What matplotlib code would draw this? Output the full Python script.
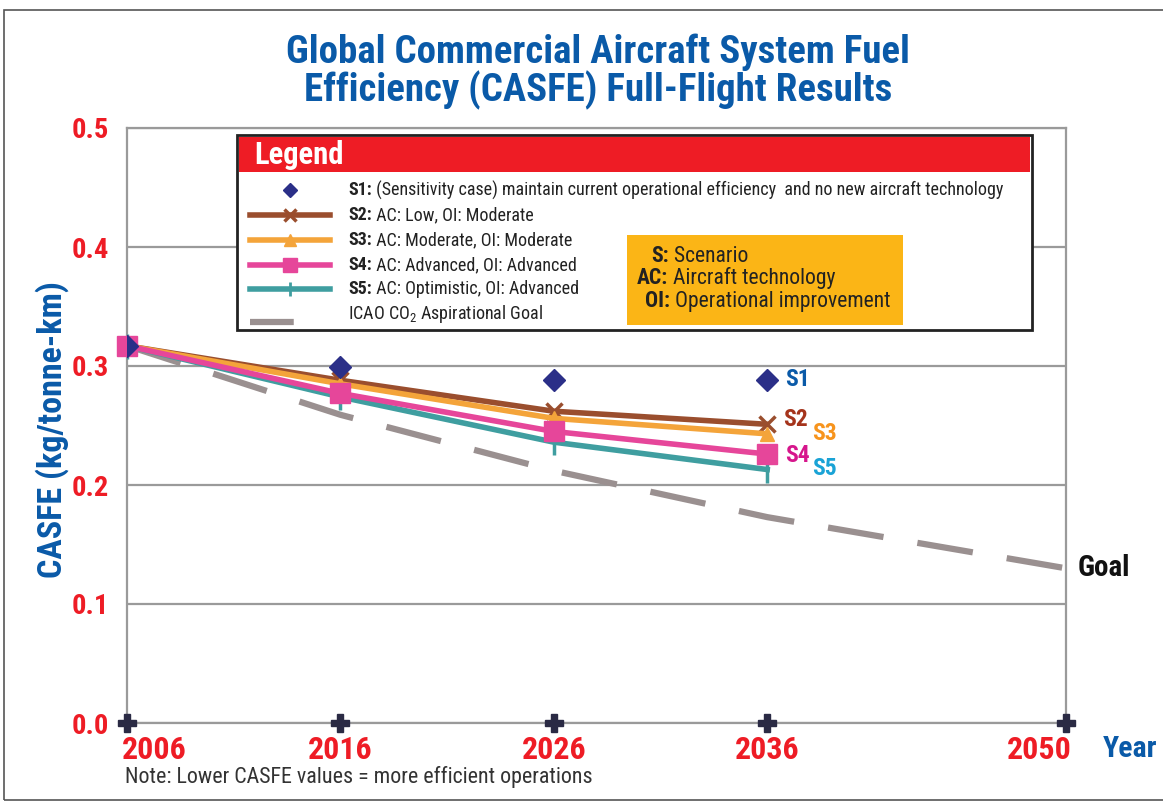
import matplotlib
matplotlib.use("Agg")
import matplotlib.pyplot as plt
from matplotlib.patches import Rectangle
from matplotlib.lines import Line2D
from matplotlib.transforms import ScaledTranslation, blended_transform_factory

# ---- data ----
years = [2006, 2016, 2026, 2036]
goal_years = [2006, 2016, 2026, 2036, 2050]
axis_years = [2006, 2016, 2026, 2036, 2050]
s1 = [0.317, 0.299, 0.288, 0.288]
s2 = [0.317, 0.288, 0.262, 0.251]
s3 = [0.317, 0.285, 0.256, 0.243]
s4 = [0.317, 0.277, 0.245, 0.226]
s5 = [0.317, 0.274, 0.236, 0.213]
goal = [0.317, 0.259, 0.212, 0.173, 0.130]
yticks = [0.0, 0.1, 0.2, 0.3, 0.4, 0.5]

RED = "#ee1c25"
BLUE = "#0a5aa8"
NARROW = ["Roboto Condensed", "DejaVu Sans"]
plt.rcParams["font.family"] = NARROW
plt.rcParams["mathtext.fontset"] = "custom"
plt.rcParams["mathtext.rm"] = "Roboto Condensed"

c_s1 = "#2b2f88"
c_s2 = "#9a4e2e"
c_s3 = "#f4a43a"
c_s4 = "#e6469a"
c_s5 = "#3f9ea0"
c_goal = "#9a9090"

fig = plt.figure(figsize=(11.63, 8.06), dpi=100)
W, H = 1163, 806


def fx(x):
    return x / W


def fy(y):
    return 1 - y / H


# outer frame
fig.add_artist(Rectangle((fx(4), fy(800)), fx(1170) - fx(4), fy(10) - fy(800),
                         transform=fig.transFigure, fill=False, ec="#555555", lw=1.2))

ax = fig.add_axes([fx(127), fy(723), fx(1066) - fx(127), fy(128) - fy(723)])
ax.set_xlim(2006, 2050)
ax.set_ylim(0, 0.5)
for y in yticks:
    ax.axhline(y, color="#9a9a9a", lw=1.6, zorder=1)
for s in ax.spines.values():
    s.set_color("#9a9a9a")
    s.set_linewidth(1.6)

ax.plot(goal_years, goal, color=c_goal, lw=4.5, dashes=(9, 5.5), zorder=2,
        solid_capstyle="butt")
ax.plot(years, s2, color=c_s2, lw=4, marker="x", ms=11, mew=2.5, zorder=4)
ax.plot(years, s3, color=c_s3, lw=4, marker="^", ms=10, zorder=4)
ax.plot(years, s4, color=c_s4, lw=4, marker="s", ms=14, zorder=5, clip_on=False)
ax.plot(years, s5, color=c_s5, lw=4, marker="|", ms=18, mew=2.5, zorder=3)
ax.plot(years, s1, ls="none", marker="D", ms=11, color=c_s1, zorder=6)
ax.plot(axis_years, [0] * len(axis_years), ls="none", marker="P", ms=13,
        color="#2a2a44", clip_on=False, zorder=6)

# x tick labels drawn at data x positions (with small alignment offsets)
ax.set_xticks(axis_years)
ax.set_xticklabels([])
ax.set_yticks(yticks)
ax.set_yticklabels([f"{y:.1f}" for y in yticks])
ax.tick_params(length=0)
for t in ax.get_yticklabels():
    t.set_color(RED)
    t.set_fontweight("bold")
    t.set_fontsize(20.5)
ax.tick_params(axis="y", pad=13)

xtrans = blended_transform_factory(ax.transData, ax.transAxes)
for i, yr in enumerate(axis_years):
    if i == 0:
        ha, dx = "left", -5
    elif i == len(axis_years) - 1:
        ha, dx = "right", 6
    else:
        ha, dx = "center", 0
    ax.text(yr, 0, str(yr), color=RED, fontsize=23, fontweight="bold", ha=ha, va="top",
            transform=xtrans + ScaledTranslation(dx / 100, -12 / 100, fig.dpi_scale_trans),
            clip_on=False)

fig.text(fx(52), fy(430), "CASFE (kg/tonne-km)", rotation=90, color=BLUE,
         fontsize=24.5, fontweight="bold", ha="center", va="center")
fig.text(fx(1103), fy(749), "Year", color=BLUE, fontsize=21.5, fontweight="bold",
         ha="left", va="center")
fig.text(fx(125), fy(777), "Note: Lower CASFE values = more efficient operations",
         color="#333333", fontsize=15.8, ha="left", va="center")

fig.text(fx(598), fy(52), "Global Commercial Aircraft System Fuel",
         color=BLUE, fontsize=28, fontweight="bold", ha="center", va="center")
fig.text(fx(598), fy(90), "Efficiency (CASFE) Full-Flight Results",
         color=BLUE, fontsize=28, fontweight="bold", ha="center", va="center")

# end labels
side = [("S1", 785, 380, BLUE, 17), ("S2", 783, 420, "#a5341c", 17),
        ("S3", 812, 433, "#f7941d", 17), ("S4", 785, 455, "#d6168c", 17),
        ("S5", 812, 468, "#1aa3d6", 17), ("Goal", 1078, 568, "#111111", 21)]
for txt, x, y, c, sz in side:
    fig.text(fx(x), fy(y), txt, color=c, fontsize=sz, fontweight="bold",
             ha="left", va="center")

# legend box
fig.add_artist(Rectangle((fx(237), fy(330)), fx(1032) - fx(237), fy(135) - fy(330),
                         transform=fig.transFigure, fc="white", ec="#222222", lw=2, zorder=10))
fig.add_artist(Rectangle((fx(239), fy(172)), fx(1030) - fx(239), fy(137) - fy(172),
                         transform=fig.transFigure, fc=RED, ec="none", zorder=11))
fig.text(fx(254), fy(155), "Legend", color="white", fontsize=22, fontweight="bold",
         ha="left", va="center", zorder=12)

fig.canvas.draw()
renderer = fig.canvas.get_renderer()


def two_part(x, y, b, rest, size):
    t = fig.text(fx(x), fy(y), b, color="#222222", fontsize=size, fontweight="bold",
                 ha="left", va="center", zorder=13)
    bb = t.get_window_extent(renderer)
    fig.text(bb.x1 / W, fy(y), rest, color="#222222", fontsize=size,
             ha="left", va="center", zorder=13)


entries = [
    ("S1:", " (Sensitivity case) maintain current operational efficiency  and no new aircraft technology", 190),
    ("S2:", " AC: Low, OI: Moderate", 215),
    ("S3:", " AC: Moderate, OI: Moderate", 240),
    ("S4:", " AC: Advanced, OI: Advanced", 265),
    ("S5:", " AC: Optimistic, OI: Advanced", 289),
]
handles = [
    dict(ls="none", marker="D", ms=7, color=c_s1),
    dict(color=c_s2, lw=4, marker="x", ms=9, mew=2.5),
    dict(color=c_s3, lw=4, marker="^", ms=8),
    dict(color=c_s4, lw=4, marker="s", ms=10),
    dict(color=c_s5, lw=4, marker="|", ms=10, mew=2),
]
for (b, rest, y), h in zip(entries, handles):
    if h.get("ls") == "none":
        fig.add_artist(Line2D([fx(290)], [fy(y)], transform=fig.transFigure, zorder=12, **h))
    else:
        fig.add_artist(Line2D([fx(250), fx(290), fx(330)], [fy(y)] * 3, markevery=[1],
                              transform=fig.transFigure, zorder=12, **h))
    two_part(348, y, b, rest, 13)
fig.add_artist(Line2D([fx(250), fx(330)], [fy(322)] * 2, color=c_goal, lw=4.5,
                      dashes=(7, 6), transform=fig.transFigure, zorder=12))
fig.text(fx(348), fy(314), "ICAO CO$_2$ Aspirational Goal", color="#222222", fontsize=13,
         ha="left", va="center", zorder=12)

# key box
fig.add_artist(Rectangle((fx(627), fy(325)), fx(903) - fx(627), fy(235) - fy(325),
                         transform=fig.transFigure, fc="#fbb516", ec="none", zorder=12))
keys = [("S:", " Scenario", 256, 651), ("AC:", " Aircraft technology", 278, 637),
        ("OI:", " Operational improvement", 301, 645)]
for b, rest, y, x in keys:
    two_part(x, y, b, rest, 15.6)

fig.savefig("out.png", dpi=100)
